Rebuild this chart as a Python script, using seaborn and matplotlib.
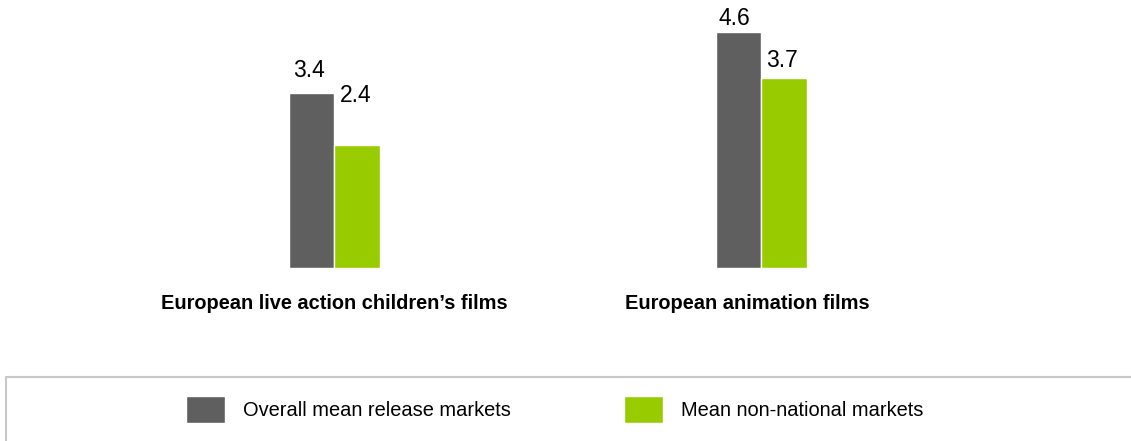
import matplotlib
matplotlib.use("Agg")
import matplotlib.pyplot as plt
from matplotlib.patches import Rectangle
import seaborn as sns
import pandas as pd

# Mean number of release markets per film type
categories = ["European live action children\u2019s films", "European animation films"]
series_names = ["Overall mean release markets", "Mean non-national markets"]
overall_mean = [3.4, 4.6]
non_national = [2.4, 3.7]

colors = ["#5f5f5f", "#99cc00"]

df = pd.DataFrame({
    "category": categories * 2,
    "series": [series_names[0]] * 2 + [series_names[1]] * 2,
    "value": overall_mean + non_national,
})

sns.set_theme(style="white")
plt.rcParams["font.family"] = ["Liberation Sans", "DejaVu Sans"]
plt.rcParams["text.color"] = "black"

W, H, DPI = 1131, 441, 100
fig = plt.figure(figsize=(W / DPI, H / DPI), dpi=DPI)

# axes placed so categories sit 427 px apart with the baseline at y=268 px
ax_left = 121 / W
ax_width = 854 / W
ax_bottom = 1 - 268 / H
ax_height = 257 / H
ax = fig.add_axes([ax_left, ax_bottom, ax_width, ax_height])

sns.barplot(data=df, x="category", y="value", hue="series",
            order=categories, hue_order=series_names,
            palette=colors, width=0.212, edgecolor="white", linewidth=1,
            saturation=1, ax=ax, legend=True)

ax.set_xlim(-0.5, 1.5)
ax.set_ylim(0, 5)
ax.set_xlabel("")
ax.set_ylabel("")
ax.set_xticks([])
ax.set_yticks([])
for s in ax.spines.values():
    s.set_visible(False)

# value labels above each bar (offsets in points: [category][series])
label_dy = [[11.9, 30.9], [4.8, 8.0]]
label_dx = [[-2.0, -1.0], [-3.0, -1.4]]
for si, cont in enumerate(ax.containers):
    vals = overall_mean if si == 0 else non_national
    for ci, bar in enumerate(cont):
        ax.annotate(f"{vals[ci]:.1f}",
                    (bar.get_x() + bar.get_width() / 2, bar.get_height()),
                    xytext=(label_dx[ci][si], label_dy[ci][si]),
                    textcoords="offset points",
                    ha="center", va="baseline", fontsize=16.5, color="black")

# category labels under each group
cat_label_x = [0.0, 0.966]
for x, name in zip(cat_label_x, categories):
    ax.text(x, -0.70, name, ha="center", va="center", fontsize=14.4,
            fontweight="bold", color="black")

# legend with an open frame running off the right and bottom edges
handles, labels = ax.get_legend_handles_labels()
ax.get_legend().remove()
fig.legend(handles, labels, loc="center left",
           bbox_to_anchor=(186 / W, 1 - 409.5 / H),
           ncol=2, frameon=False, fontsize=14.4, labelcolor="black",
           handlelength=1.95, handleheight=1.75, handletextpad=0.9,
           columnspacing=5.65, borderpad=0, borderaxespad=0)

fig.patches.append(Rectangle((6 / W, -0.2), 1.2, 0.2 + (H - 376.7) / H,
                             transform=fig.transFigure, fill=False,
                             edgecolor="#c8c8c8", linewidth=1.5, zorder=0))

fig.savefig("out.png", dpi=DPI, facecolor="white")
